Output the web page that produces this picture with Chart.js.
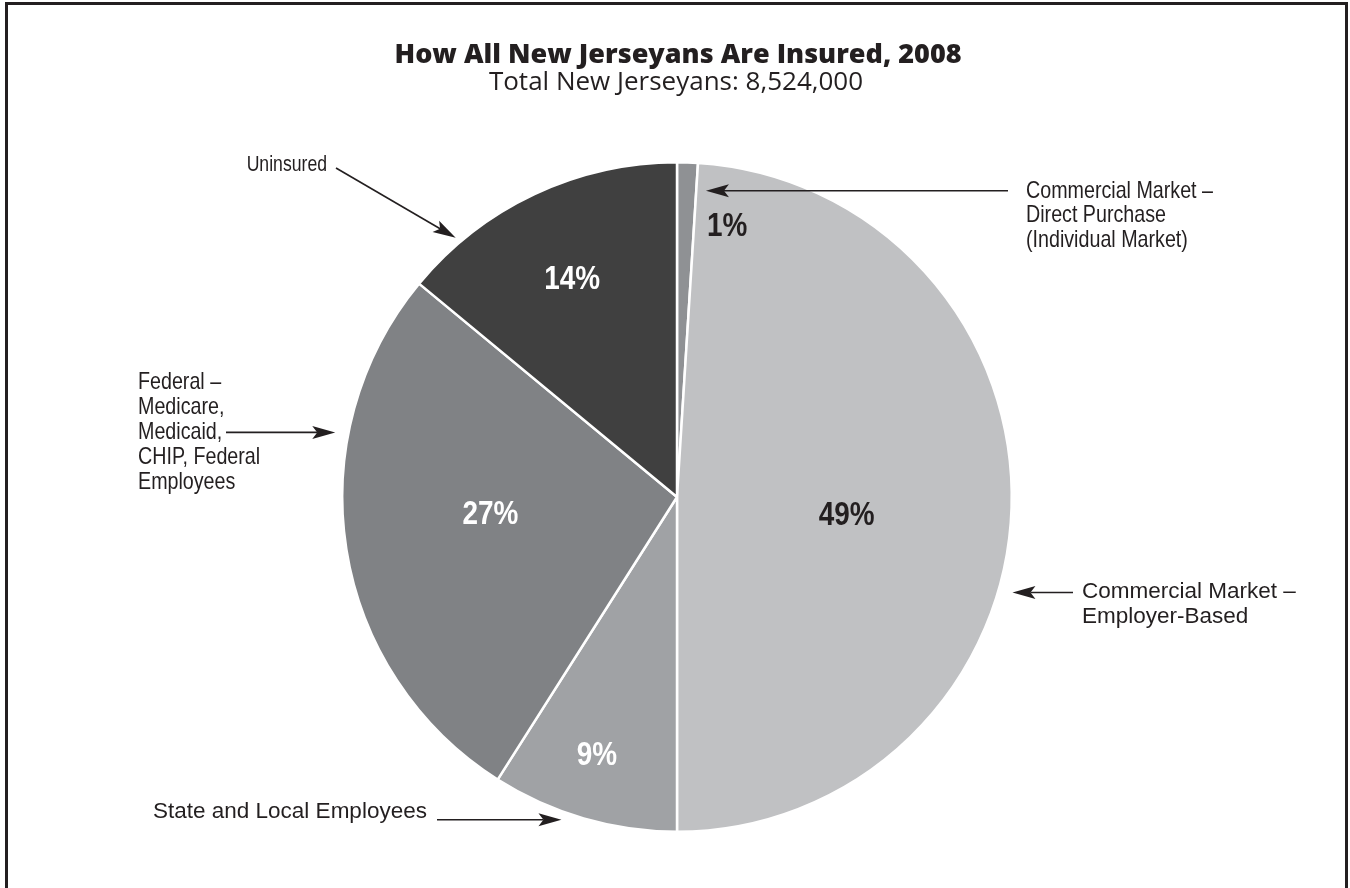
<!DOCTYPE html>
<html><head><meta charset="utf-8">
<script src="https://cdn.jsdelivr.net/npm/chart.js@4.4.0/dist/chart.umd.min.js"></script>
<style>html,body{margin:0;padding:0;background:#fff;}canvas{display:block;}</style>
</head><body>
<canvas id="c" width="1350" height="888"></canvas>
<script>
// ---- data ----
const categories = [
  "Commercial Market – Direct Purchase (Individual Market)",
  "Commercial Market – Employer-Based",
  "State and Local Employees",
  "Federal – Medicare, Medicaid, CHIP, Federal Employees",
  "Uninsured"
];
const shares = [1, 49, 9, 27, 14];
const pctLabels = ["1%", "49%", "9%", "27%", "14%"];
const calloutLines = [
  ["Commercial Market –", "Direct Purchase", "(Individual Market)"],
  ["Commercial Market –", "Employer-Based"],
  ["State and Local Employees"],
  ["Federal –", "Medicare,", "Medicaid,", "CHIP, Federal", "Employees"],
  ["Uninsured"]
];
const titleText = "How All New Jerseyans Are Insured, 2008";
const subtitleText = "Total New Jerseyans: 8,524,000";

// ---- styles ----
const sliceColors = ["#8f9194", "#c0c1c3", "#a0a2a5", "#808285", "#404040"];
const pctColors = ["#231f20", "#231f20", "#ffffff", "#ffffff", "#ffffff"];
// label placement: angle shift from slice mid (deg), radius fraction
const pctPlace = [[8.7, 0.82], [4.3, 0.51], [1.0, 0.81], [3.5, 0.56], [-0.6, 0.72]];
// callouts: tip (deg clockwise from top, radius fraction), tail point, text block
const callouts = [
  {tip:[5.4, 0.919], tail:[1008, null], text:[1026, 191], align:"left", narrow:true, size:24, lh:24.5},
  {tip:[105.9, 1.042], tail:[1073, null], text:[1082, 592], align:"left", narrow:false, size:22.5, lh:25},
  {tip:[199.7, 1.024], tail:[437, null], text:[153, 812], align:"left", narrow:false, size:22.5, lh:25},
  {tip:[280.7, 1.039], tail:[226, null], text:[138, 382], align:"left", narrow:true, size:24, lh:25},
  {tip:[319.5, 1.018], tail:[336, 168], text:[327, 165], align:"right", narrow:true, size:21.5, lh:25}
];

const TXT = "#231f20";

function drawText(ctx, str, x, y, size, bold, narrow, align, color) {
  ctx.save();
  ctx.fillStyle = color;
  ctx.font = (bold ? "bold " : "") + size + "px 'Liberation Sans', Arial, sans-serif";
  ctx.textBaseline = "middle";
  ctx.textAlign = align;
  const sx = narrow ? 0.82 : 1;
  ctx.translate(x, y);
  ctx.scale(sx, 1);
  ctx.fillText(str, 0, 0);
  ctx.restore();
}

function arrow(ctx, x1, y1, x2, y2) {
  const ang = Math.atan2(y2 - y1, x2 - x1);
  const L = 23, W = 6.5, N = 5;
  ctx.save();
  ctx.strokeStyle = TXT; ctx.fillStyle = TXT; ctx.lineWidth = 1.6;
  ctx.beginPath();
  ctx.moveTo(x1, y1);
  ctx.lineTo(x2 - Math.cos(ang) * (L - N), y2 - Math.sin(ang) * (L - N));
  ctx.stroke();
  ctx.translate(x2, y2); ctx.rotate(ang);
  ctx.beginPath();
  ctx.moveTo(0, 0);
  ctx.lineTo(-L, -W);
  ctx.lineTo(-L + N, 0);
  ctx.lineTo(-L, W);
  ctx.closePath();
  ctx.fill();
  ctx.restore();
}

const decor = {
  id: "decor",
  afterDraw(chart) {
    const ctx = chart.ctx;
    const meta = chart.getDatasetMeta(0);
    const cx = meta.data[0].x, cy = meta.data[0].y, R = meta.data[0].outerRadius;
    // frame
    ctx.save();
    ctx.strokeStyle = TXT; ctx.lineWidth = 3;
    ctx.beginPath();
    ctx.moveTo(6.5, 900); ctx.lineTo(6.5, 3.5); ctx.lineTo(1346.5, 3.5); ctx.lineTo(1346.5, 900);
    ctx.stroke();
    ctx.restore();
    // titles
    ctx.save();
    ctx.fillStyle = TXT; ctx.textAlign = "center"; ctx.textBaseline = "middle";
    ctx.font = "800 27px 'Open Sans', sans-serif";
    ctx.fillText(titleText, 678, 55);
    ctx.font = "26px 'Open Sans', sans-serif";
    ctx.fillText(subtitleText, 676, 83);
    ctx.restore();
    // percent labels
    meta.data.forEach((arc, i) => {
      const mid = (arc.startAngle + arc.endAngle) / 2 + pctPlace[i][0] * Math.PI / 180;
      const r = pctPlace[i][1] * R;
      drawText(ctx, pctLabels[i], cx + Math.cos(mid) * r, cy + Math.sin(mid) * r, 34, true, true, "center", pctColors[i]);
    });
    // callouts
    callouts.forEach((c, i) => {
      const a = (c.tip[0] - 90) * Math.PI / 180;
      const tx = cx + Math.cos(a) * c.tip[1] * R, ty = cy + Math.sin(a) * c.tip[1] * R;
      const sx = c.tail[0], sy = c.tail[1] === null ? ty : c.tail[1];
      arrow(ctx, sx, sy, tx, ty);
      calloutLines[i].forEach((ln, k) => {
        drawText(ctx, ln, c.text[0], c.text[1] + k * c.lh, c.size, false, c.narrow, c.align, TXT);
      });
    });
  }
};

new Chart(document.getElementById("c"), {
  type: "pie",
  data: {
    labels: categories,
    datasets: [{
      data: shares,
      backgroundColor: sliceColors,
      borderColor: "#ffffff",
      borderWidth: 2.5,
      hoverOffset: 0
    }]
  },
  options: {
    responsive: false,
    animation: false,
    events: [],
    layout: { padding: { left: 341, right: 337, top: 161, bottom: 55 } },
    plugins: { legend: { display: false }, tooltip: { enabled: false }, title: { display: false } }
  },
  plugins: [decor]
});
</script>
</body></html>
